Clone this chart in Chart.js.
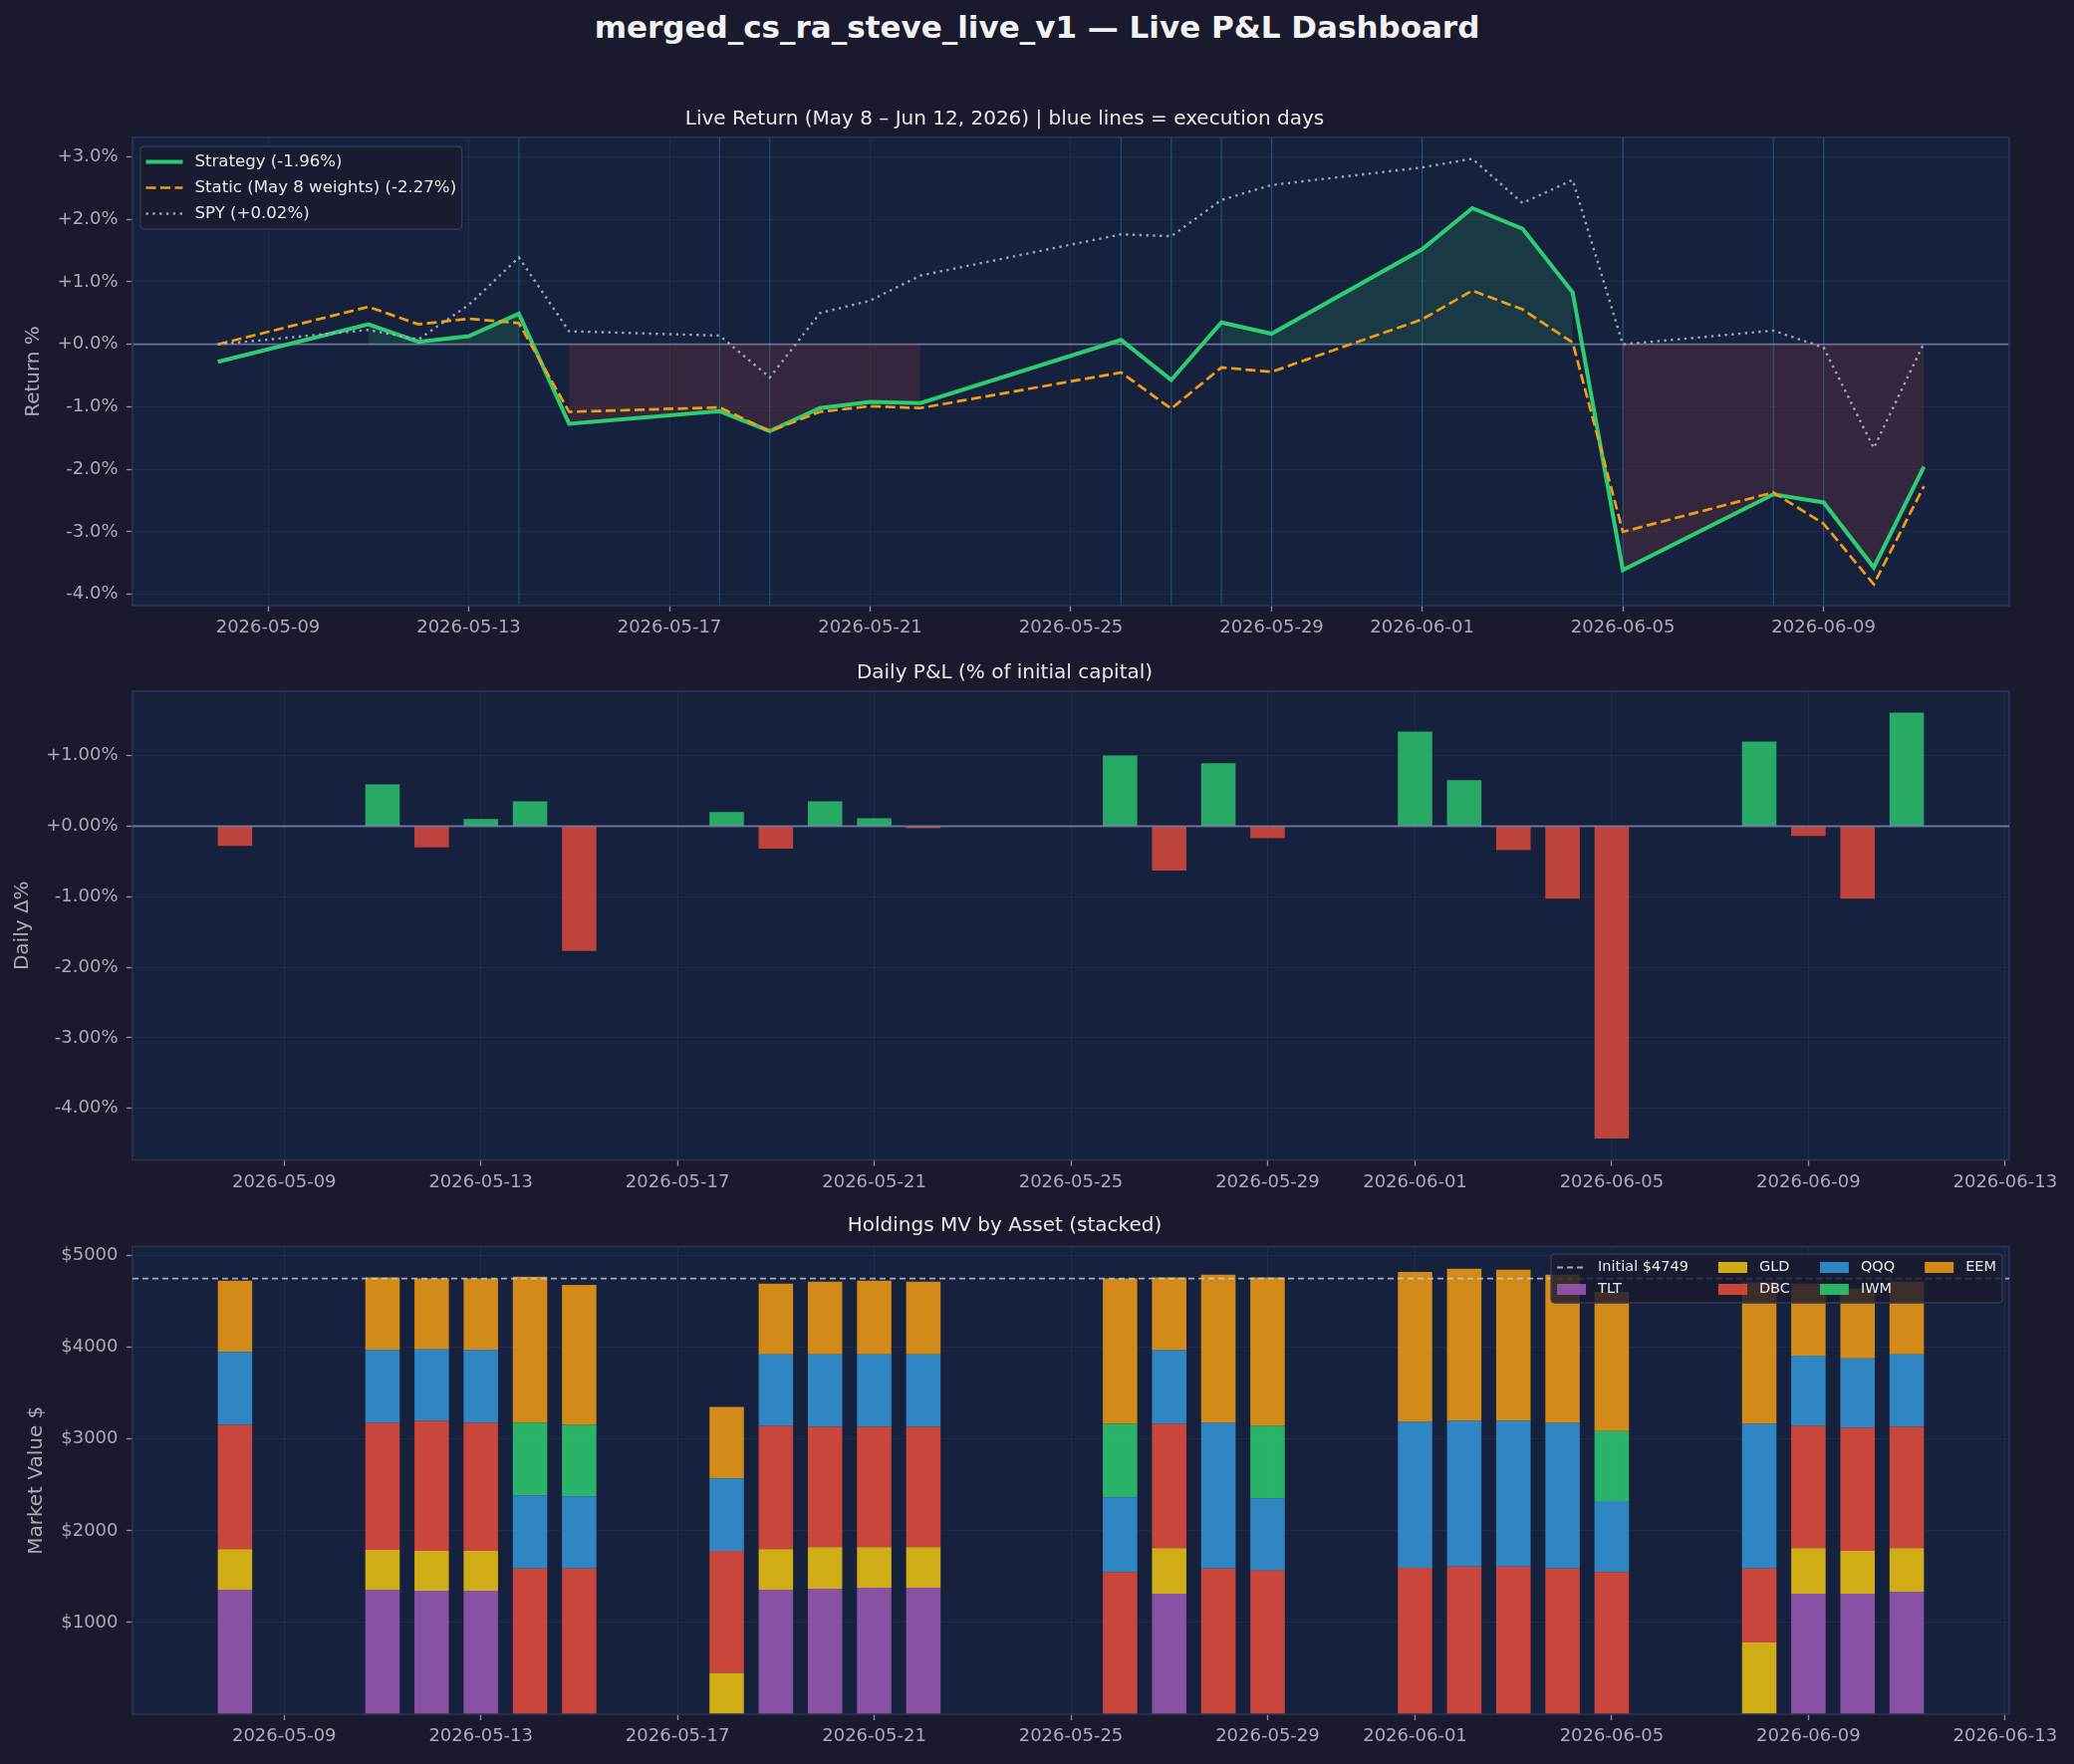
<!DOCTYPE html>
<html>
<head>
<meta charset="utf-8">
<title>Live P&amp;L Dashboard</title>
<script src="https://cdn.jsdelivr.net/npm/chart.js@4.4.1/dist/chart.umd.min.js"></script>
<style>
  html, body { margin: 0; padding: 0; background: #1a1a2e; }
  #wrap { position: relative; width: 2082px; height: 1771px; overflow: hidden; }
  #suptitle {
    position: absolute; left: 0; top: 9px; width: 2082px; line-height: 36px;
    text-align: center; font: bold 31px 'DejaVu Sans', sans-serif; color: #f2f2f2;
  }
  canvas { position: absolute; left: 0; }
</style>
</head>
<body>
<div id="wrap">
  <div id="suptitle">merged_cs_ra_steve_live_v1 — Live P&amp;L Dashboard</div>
  <canvas id="retChart" width="2082" height="604" style="top:56px"></canvas>
  <canvas id="pnlChart" width="2082" height="540" style="top:660px"></canvas>
  <canvas id="mvChart" width="2082" height="571" style="top:1200px"></canvas>
</div>
<script>
// trading days in the live window
const dates = ['2026-05-08', '2026-05-11', '2026-05-12', '2026-05-13', '2026-05-14', '2026-05-15',
  '2026-05-18', '2026-05-19', '2026-05-20', '2026-05-21', '2026-05-22', '2026-05-26',
  '2026-05-27', '2026-05-28', '2026-05-29', '2026-06-01', '2026-06-02', '2026-06-03',
  '2026-06-04', '2026-06-05', '2026-06-08', '2026-06-09', '2026-06-10', '2026-06-11'];

// cumulative return %
const strategyRet = [-0.28, 0.32, 0.04, 0.13, 0.49, -1.27, -1.07, -1.39, -1.02, -0.92, -0.94, 0.07,
  -0.57, 0.35, 0.17, 1.52, 2.18, 1.85, 0.83, -3.61, -2.40, -2.53, -3.57, -1.96];
const staticRet = [0.00, 0.60, 0.32, 0.41, 0.34, -1.08, -1.01, -1.39, -1.08, -0.99, -1.02, -0.45,
  -1.03, -0.37, -0.44, 0.40, 0.86, 0.56, 0.03, -3.00, -2.37, -2.87, -3.84, -2.27];
const spyRet = [0.00, 0.23, 0.08, 0.63, 1.39, 0.21, 0.14, -0.53, 0.50, 0.70, 1.10, 1.76,
  1.73, 2.31, 2.55, 2.83, 2.97, 2.26, 2.63, 0.00, 0.22, -0.05, -1.66, 0.02];

// daily P&L, % of initial capital
const dailyPnl = [-0.28, 0.59, -0.30, 0.10, 0.35, -1.77, 0.20, -0.32, 0.35, 0.11, -0.03, 1.00,
  -0.63, 0.89, -0.17, 1.34, 0.65, -0.34, -1.03, -4.43, 1.20, -0.14, -1.03, 1.61];

const execDays = ['2026-05-14', '2026-05-18', '2026-05-19', '2026-05-26', '2026-05-27', '2026-05-28',
  '2026-05-29', '2026-06-01', '2026-06-05', '2026-06-08', '2026-06-09'];

// holdings market value $ by asset
const assets = ['TLT', 'GLD', 'DBC', 'QQQ', 'IWM', 'EEM'];
const mvTLT = [1357, 1357, 1347, 1347, 0, 0, 0, 1357, 1368, 1379, 1379, 0, 1314, 0, 0, 0, 0, 0, 0, 0, 0, 1314, 1314, 1336];
const mvGLD = [444, 434, 433, 433, 0, 0, 448, 444, 455, 444, 444, 0, 498, 0, 0, 0, 0, 0, 0, 0, 783, 498, 466, 476];
const mvDBC = [1354, 1386, 1419, 1397, 1588, 1588, 1332, 1343, 1311, 1311, 1311, 1549, 1354, 1588, 1567, 1596, 1610, 1610, 1588, 1549, 805, 1332, 1343, 1322];
const mvQQQ = [794, 794, 779, 794, 798, 787, 790, 780, 790, 790, 790, 816, 802, 1589, 787, 1592, 1589, 1589, 1589, 776, 1578, 766, 758, 790];
const mvIWM = [0, 0, 0, 0, 791, 780, 0, 0, 0, 0, 0, 801, 0, 0, 790, 0, 0, 0, 0, 762, 0, 0, 0, 0];
const mvEEM = [777, 791, 773, 780, 1592, 1527, 780, 769, 791, 802, 791, 1585, 794, 1614, 1618, 1635, 1657, 1646, 1614, 1519, 1542, 783, 758, 791];
const initialCapital = 4749;

const tickDates = ['2026-05-09', '2026-05-13', '2026-05-17', '2026-05-21', '2026-05-25', '2026-05-29',
  '2026-06-01', '2026-06-05', '2026-06-09', '2026-06-13'];
const retTicks = [-4, -3, -2, -1, 0, 1, 2, 3];
const pnlTicks = [-4, -3, -2, -1, 0, 1];
const mvTicks = [1000, 2000, 3000, 4000, 5000];

// ---- style
const FONT = "'DejaVu Sans', sans-serif";
const AX_BG = '#16213e';
const SPINE = '#2f3257';
const GRID = 'rgba(255,255,255,0.045)';
const TICK = '#a9aab4';
const TICK_MARK = '#8f91a0';
const TEXT = '#e8e8e8';
const ZERO = 'rgba(136,140,180,0.75)';
const assetColors = {
  TLT: 'rgba(155,89,182,0.85)', GLD: 'rgba(241,196,15,0.85)', DBC: 'rgba(231,76,60,0.85)',
  QQQ: 'rgba(52,152,219,0.85)', IWM: 'rgba(46,204,113,0.85)', EEM: 'rgba(243,156,18,0.85)'
};

Chart.defaults.font.family = FONT;
Chart.defaults.color = TICK;

const t0 = Date.parse(dates[0] + 'T00:00:00Z');
const dayOf = s => Math.round((Date.parse(s + 'T00:00:00Z') - t0) / 86400000);
const xDays = dates.map(dayOf);
const tickDays = tickDates.map(dayOf);
const pts = arr => arr.map((v, i) => ({x: xDays[i], y: v}));
const pad5 = (lo, hi) => { const m = (hi - lo) * 0.05; return [lo - m, hi + m]; };
const signed = (v, d) => (v >= 0 ? '+' : '') + v.toFixed(d) + '%';
const last = arr => arr[arr.length - 1];

function roundRect(ctx, x, y, w, h, r) {
  ctx.beginPath();
  ctx.moveTo(x + r, y);
  ctx.lineTo(x + w - r, y); ctx.quadraticCurveTo(x + w, y, x + w, y + r);
  ctx.lineTo(x + w, y + h - r); ctx.quadraticCurveTo(x + w, y + h, x + w - r, y + h);
  ctx.lineTo(x + r, y + h); ctx.quadraticCurveTo(x, y + h, x, y + h - r);
  ctx.lineTo(x, y + r); ctx.quadraticCurveTo(x, y, x + r, y);
  ctx.closePath();
}

// legend box a la matplotlib (column-major fill)
function drawBoxLegend(chart, o) {
  const {ctx, chartArea: a} = chart;
  ctx.save();
  ctx.font = o.fontSize + 'px ' + FONT;
  const rows = o.rows, cols = Math.ceil(o.items.length / rows);
  const colW = [];
  for (let c = 0; c < cols; c++) {
    let w = 0;
    for (let r = 0; r < rows; r++) {
      const it = o.items[c * rows + r];
      if (it) w = Math.max(w, ctx.measureText(it.label).width);
    }
    colW.push(o.handleLen + o.handleGap + w);
  }
  const boxW = o.padX * 2 + colW.reduce((s, w) => s + w, 0) + o.colGap * (cols - 1);
  const boxH = o.padY * 2 + o.rowH * rows;
  const x0 = o.alignRight ? a.right - o.offX - boxW : a.left + o.offX;
  const y0 = a.top + o.offY;
  roundRect(ctx, x0, y0, boxW, boxH, 4);
  ctx.fillStyle = 'rgba(26,26,46,0.82)';
  ctx.fill();
  ctx.lineWidth = 1.3;
  ctx.strokeStyle = '#34375c';
  ctx.stroke();
  let cx = x0 + o.padX;
  for (let c = 0; c < cols; c++) {
    for (let r = 0; r < rows; r++) {
      const it = o.items[c * rows + r];
      if (!it) continue;
      const cy = y0 + o.padY + o.rowH * (r + 0.5);
      if (it.type === 'patch') {
        ctx.fillStyle = it.color;
        ctx.fillRect(cx, cy - o.patchH / 2, o.handleLen, o.patchH);
      } else {
        ctx.beginPath();
        ctx.setLineDash(it.dash || []);
        ctx.strokeStyle = it.color;
        ctx.lineWidth = it.width;
        ctx.moveTo(cx, cy);
        ctx.lineTo(cx + o.handleLen, cy);
        ctx.stroke();
        ctx.setLineDash([]);
      }
      ctx.fillStyle = TEXT;
      ctx.textBaseline = 'middle';
      ctx.textAlign = 'left';
      ctx.fillText(it.label, cx + o.handleLen + o.handleGap, cy);
    }
    cx += colW[c] + o.colGap;
  }
  ctx.restore();
}

const axesFrame = {
  id: 'axesFrame',
  beforeDraw(chart) {
    const {ctx, chartArea: a} = chart;
    ctx.save();
    ctx.fillStyle = AX_BG;
    ctx.fillRect(a.left, a.top, a.width, a.height);
    ctx.restore();
  },
  afterDatasetsDraw(chart) {
    const {ctx, chartArea: a} = chart;
    ctx.save();
    ctx.strokeStyle = SPINE;
    ctx.lineWidth = 1.6;
    ctx.strokeRect(a.left, a.top, a.width, a.height);
    ctx.restore();
  }
};

function hLine(chart, value, color, width, dash) {
  const {ctx, chartArea: a, scales: {y}} = chart;
  const py = y.getPixelForValue(value);
  ctx.save();
  ctx.strokeStyle = color;
  ctx.lineWidth = width;
  ctx.setLineDash(dash || []);
  ctx.beginPath();
  ctx.moveTo(a.left, py);
  ctx.lineTo(a.right, py);
  ctx.stroke();
  ctx.restore();
}

function dateAxis(min, max, height) {
  return {
    type: 'linear', min, max, bounds: 'data', offset: false,
    afterBuildTicks: s => { s.ticks = tickDays.filter(d => d >= min && d <= max).map(v => ({value: v})); },
    afterFit: s => { s.height = height; },
    ticks: {
      callback: v => tickDates[tickDays.indexOf(v)],
      color: TICK, font: {size: 18}, padding: 6, maxRotation: 0, minRotation: 0, autoSkip: false
    },
    grid: {color: GRID, lineWidth: 1, tickLength: 6, tickColor: TICK_MARK, tickWidth: 1.3, offset: false},
    border: {display: false}
  };
}

function valueAxis(min, max, ticks, fmt, title, titlePad, stacked) {
  return {
    type: 'linear', min, max, bounds: 'data', stacked: !!stacked,
    afterBuildTicks: s => { s.ticks = ticks.map(v => ({value: v})); },
    afterFit: s => { s.width = 133; },
    ticks: {callback: fmt, color: TICK, font: {size: 18}, padding: 8.5, autoSkip: false},
    grid: {color: GRID, lineWidth: 1, tickLength: 6, tickColor: TICK_MARK, tickWidth: 1.3},
    border: {display: false},
    title: {display: true, text: title, color: TICK, font: {size: 20}, padding: {top: titlePad, bottom: 0}}
  };
}

function subTitle(text, top, bottom) {
  return {display: true, text, color: TEXT, font: {size: 20, weight: 'normal'}, padding: {top, bottom}};
}

const common = {
  responsive: false, animation: false, devicePixelRatio: 1, events: [],
  layout: {padding: {left: 0, right: 65, top: 0, bottom: 0}}
};

// ---------------- Live return
const retAll = strategyRet.concat(staticRet, spyRet);
const [retMin, retMax] = pad5(Math.min(...retAll), Math.max(...retAll));
const [xLineMin, xLineMax] = pad5(xDays[0], last(xDays));

const strategyLabel = `Strategy (${signed(last(strategyRet), 2)})`;
const staticLabel = `Static (May 8 weights) (${signed(last(staticRet), 2)})`;
const spyLabel = `SPY (${signed(last(spyRet), 2)})`;
const SPY_COLOR = 'rgba(170,176,194,0.9)';

new Chart(document.getElementById('retChart'), {
  type: 'line',
  data: {
    datasets: [
      {label: spyLabel, data: pts(spyRet), borderColor: SPY_COLOR, borderWidth: 2.4, borderDash: [2.4, 4.4],
        pointRadius: 0, tension: 0, fill: false},
      {label: staticLabel, data: pts(staticRet), borderColor: '#f39c12', borderWidth: 2.7, borderDash: [10, 4.5],
        pointRadius: 0, tension: 0, fill: false},
      {label: strategyLabel, data: pts(strategyRet), borderColor: '#2ecc71', borderWidth: 4,
        pointRadius: 0, tension: 0, fill: false},
      // shaded gain / loss areas, only where consecutive days share a sign
      {label: 'gain', data: strategyRet.map((v, i) => ({x: xDays[i], y: v >= 0 ? v : null})),
        borderColor: 'rgba(0,0,0,0)', borderWidth: 0, pointRadius: 0, tension: 0,
        fill: 'origin', backgroundColor: 'rgba(46,204,113,0.15)'},
      {label: 'loss', data: strategyRet.map((v, i) => ({x: xDays[i], y: v < 0 ? v : null})),
        borderColor: 'rgba(0,0,0,0)', borderWidth: 0, pointRadius: 0, tension: 0,
        fill: 'origin', backgroundColor: 'rgba(231,76,60,0.15)'}
    ]
  },
  options: {
    ...common,
    scales: {
      x: dateAxis(xLineMin, xLineMax, 52),
      y: valueAxis(retMin, retMax, retTicks, v => signed(v, 1), 'Return %', 22)
    },
    plugins: {
      legend: {display: false}, tooltip: {enabled: false},
      title: subTitle('Live Return (May 8 – Jun 12, 2026) | blue lines = execution days', 51.5, 6.5)
    }
  },
  plugins: [axesFrame, {
    id: 'execLines',
    beforeDatasetsDraw(chart) {
      const {ctx, chartArea: a, scales: {x}} = chart;
      ctx.save();
      ctx.strokeStyle = 'rgba(52,152,219,0.35)';
      ctx.lineWidth = 1.3;
      execDays.map(dayOf).forEach(d => {
        const px = x.getPixelForValue(d);
        ctx.beginPath();
        ctx.moveTo(px, a.top);
        ctx.lineTo(px, a.bottom);
        ctx.stroke();
      });
      ctx.restore();
      hLine(chart, 0, ZERO, 1.8);
    },
    afterDraw(chart) {
      drawBoxLegend(chart, {
        rows: 3, fontSize: 16.6, padX: 5.5, padY: 2.5, rowH: 26, handleLen: 37, handleGap: 12, colGap: 0,
        offX: 8, offY: 9, alignRight: false,
        items: [
          {label: strategyLabel, type: 'line', color: '#2ecc71', width: 4},
          {label: staticLabel, type: 'line', color: '#f39c12', width: 2.7, dash: [10, 4.5]},
          {label: spyLabel, type: 'line', color: SPY_COLOR, width: 2.4, dash: [2.4, 4.4]}
        ]
      });
    }
  }]
});

// ---------------- Daily P&L
const [xBarMin, xBarMax] = pad5(xDays[0] - 0.35, last(xDays) + 0.35);
const [pnlMin, pnlMax] = pad5(Math.min(0, ...dailyPnl), Math.max(0, ...dailyPnl));

new Chart(document.getElementById('pnlChart'), {
  type: 'bar',
  data: {
    datasets: [{
      label: 'Daily P&L',
      data: pts(dailyPnl),
      backgroundColor: dailyPnl.map(v => v >= 0 ? 'rgba(46,204,113,0.8)' : 'rgba(231,76,60,0.8)'),
      borderWidth: 0, barPercentage: 0.7, categoryPercentage: 1
    }]
  },
  options: {
    ...common,
    scales: {
      x: dateAxis(xBarMin, xBarMax, 35.5),
      y: valueAxis(pnlMin, pnlMax, pnlTicks, v => signed(v, 2), 'Daily Δ%', 10.7)
    },
    plugins: {
      legend: {display: false}, tooltip: {enabled: false},
      title: subTitle('Daily P&L (% of initial capital)', 4, 6)
    }
  },
  plugins: [axesFrame, {
    id: 'pnlZero',
    afterDatasetsDraw(chart) { hLine(chart, 0, ZERO, 2); }
  }]
});

// ---------------- Holdings MV
const mvSeries = {TLT: mvTLT, GLD: mvGLD, DBC: mvDBC, QQQ: mvQQQ, IWM: mvIWM, EEM: mvEEM};
const totals = dates.map((_, i) => assets.reduce((s, a) => s + mvSeries[a][i], 0));
const mvMax = pad5(0, Math.max(...totals))[1];
const INIT_COLOR = 'rgba(200,205,215,0.8)';

new Chart(document.getElementById('mvChart'), {
  type: 'bar',
  data: {
    datasets: assets.map(a => ({
      label: a, data: pts(mvSeries[a]), backgroundColor: assetColors[a],
      borderWidth: 0, barPercentage: 0.7, categoryPercentage: 1
    }))
  },
  options: {
    ...common,
    scales: {
      x: {...dateAxis(xBarMin, xBarMax, 50), stacked: true},
      y: valueAxis(0, mvMax, mvTicks, v => '$' + v, 'Market Value $', 24.7, true)
    },
    plugins: {
      legend: {display: false}, tooltip: {enabled: false},
      title: subTitle('Holdings MV by Asset (stacked)', 19, 8.5)
    }
  },
  plugins: [axesFrame, {
    id: 'initLine',
    afterDatasetsDraw(chart) { hLine(chart, initialCapital, INIT_COLOR, 1.8, [6, 4]); },
    afterDraw(chart) {
      drawBoxLegend(chart, {
        rows: 2, fontSize: 14.5, padX: 6, padY: 2.5, rowH: 22, handleLen: 29, handleGap: 12, colGap: 30,
        offX: 7, offY: 7.5, alignRight: true, patchH: 11,
        items: [{label: `Initial $${initialCapital}`, type: 'line', color: INIT_COLOR, width: 1.8, dash: [6, 4]}]
          .concat(assets.map(a => ({label: a, type: 'patch', color: assetColors[a]})))
      });
    }
  }]
});
</script>
</body>
</html>
